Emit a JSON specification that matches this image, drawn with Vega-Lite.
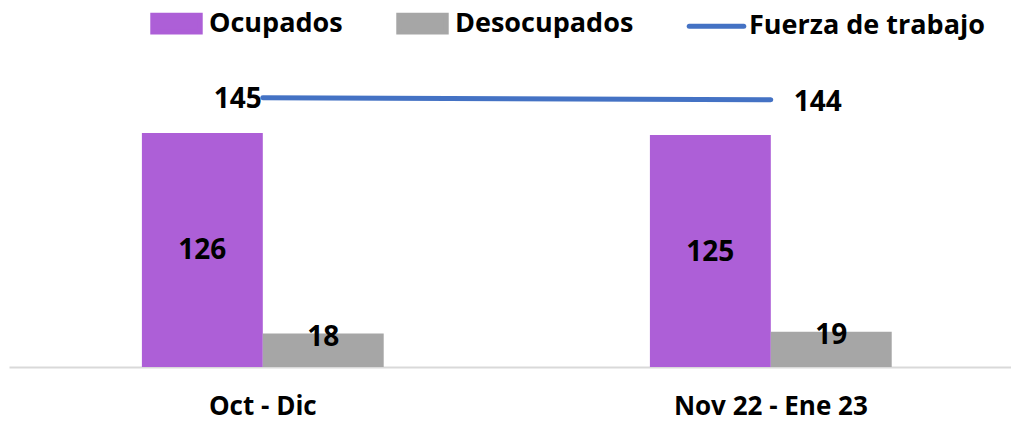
{
  "$schema": "https://vega.github.io/schema/vega-lite/v6.json",
  "autosize": {"type": "none"},
  "padding": {"left": 9, "top": 70, "right": 0, "bottom": 54},
  "width": 1002,
  "height": 297,
  "background": "white",
  "config": {"view": {"stroke": null}, "font": "Open Sans"},
  "datasets": {
    "bars": [
      {"periodo": "Oct - Dic", "serie": "Ocupados", "valor": 126},
      {"periodo": "Oct - Dic", "serie": "Desocupados", "valor": 18},
      {"periodo": "Nov 22 - Ene 23", "serie": "Ocupados", "valor": 125},
      {"periodo": "Nov 22 - Ene 23", "serie": "Desocupados", "valor": 19}
    ],
    "fuerza": [
      {"periodo": "Oct - Dic", "serie": "Fuerza de trabajo", "valor": 145},
      {"periodo": "Nov 22 - Ene 23", "serie": "Fuerza de trabajo", "valor": 144}
    ]
  },
  "encoding": {
    "x": {
      "field": "periodo", "type": "nominal", "sort": ["Oct - Dic", "Nov 22 - Ene 23"],
      "scale": {"paddingInner": 0.524, "paddingOuter": 0.2482, "align": 0.527},
      "axis": {
        "title": null, "labelAngle": 0, "ticks": false, "grid": false,
        "domainColor": "#d9d9d9", "domainWidth": 2,
        "labelFont": "Open Sans", "labelFontWeight": "bold", "labelFontSize": 26, "labelColor": "#000000",
        "labelPadding": 26, "labelLimit": 400
      }
    }
  },
  "layer": [
    {
      "data": {"name": "bars"},
      "mark": {"type": "bar"},
      "encoding": {
        "xOffset": {"field": "serie", "type": "nominal", "sort": ["Ocupados", "Desocupados"], "scale": {"domain": ["Ocupados", "Desocupados"], "paddingInner": 0, "paddingOuter": 0}},
        "y": {"field": "valor", "type": "quantitative", "scale": {"domain": [0, 160], "nice": false}, "axis": null},
        "color": {
          "field": "serie", "type": "nominal",
          "scale": {"domain": ["Ocupados", "Desocupados", "Fuerza de trabajo"], "range": ["#AD5FD7", "#A6A6A6", "#4472C4"]},
          "legend": {
            "orient": "none", "legendX": 141, "legendY": -73, "direction": "horizontal",
            "title": null,
            "labelFont": "Open Sans", "labelFontWeight": "bold", "labelFontSize": 27, "labelColor": "#000000", "labelLimit": 400,
            "symbolSize": 2250, "symbolType": "M-1,-0.35H1V0.35H-1Z", "labelOffset": 6, "columnPadding": 45,
            "symbolStrokeWidth": 5,
            "encode": {
              "symbols": {
                "update": {
                  "shape": {"signal": "datum.value === 'Fuerza de trabajo' ? 'M-1.15,0H1.15' : 'M-1,-0.35H1V0.35H-1Z'"},
                  "fill": {"signal": "datum.value === 'Ocupados' ? '#AD5FD7' : (datum.value === 'Desocupados' ? '#A6A6A6' : 'transparent')"},
                  "stroke": {"signal": "datum.value === 'Fuerza de trabajo' ? '#4472C4' : 'transparent'"},
                  "strokeWidth": {"value": 5},
                  "strokeCap": {"value": "round"},
                  "opacity": {"value": 1},
                  "fillOpacity": {"value": 1}
                }
              }
            }
          }
        }
      }
    },
    {
      "data": {"name": "bars"},
      "transform": [{"filter": "datum.serie === 'Ocupados'"}],
      "mark": {"type": "text", "font": "Open Sans", "fontWeight": "bold", "fontSize": 28, "color": "#000000", "baseline": "middle", "dy": 118},
      "encoding": {
        "xOffset": {"field": "serie", "type": "nominal", "scale": {"domain": ["Ocupados", "Desocupados"], "paddingInner": 0, "paddingOuter": 0}},
        "y": {"field": "valor", "type": "quantitative"},
        "text": {"field": "valor", "type": "quantitative"}
      }
    },
    {
      "data": {"name": "bars"},
      "transform": [{"filter": "datum.serie === 'Desocupados'"}],
      "mark": {"type": "text", "font": "Open Sans", "fontWeight": "bold", "fontSize": 28, "color": "#000000", "baseline": "middle", "dy": 4},
      "encoding": {
        "xOffset": {"field": "serie", "type": "nominal", "scale": {"domain": ["Ocupados", "Desocupados"], "paddingInner": 0, "paddingOuter": 0}},
        "y": {"field": "valor", "type": "quantitative"},
        "text": {"field": "valor", "type": "quantitative"}
      }
    },
    {
      "data": {"name": "fuerza"},
      "mark": {"type": "line", "strokeWidth": 5, "strokeCap": "round", "color": "#4472C4"},
      "encoding": {
        "y": {"field": "valor", "type": "quantitative"},
        "color": {"field": "serie", "type": "nominal"}
      }
    },
    {
      "data": {"name": "fuerza"},
      "transform": [{"filter": "datum.periodo === 'Oct - Dic'"}],
      "mark": {"type": "text", "font": "Open Sans", "fontWeight": "bold", "fontSize": 28, "color": "#000000", "baseline": "middle", "align": "right", "dx": -1, "dy": 2},
      "encoding": {
        "y": {"field": "valor", "type": "quantitative"},
        "text": {"field": "valor", "type": "quantitative"}
      }
    },
    {
      "data": {"name": "fuerza"},
      "transform": [{"filter": "datum.periodo === 'Nov 22 - Ene 23'"}],
      "mark": {"type": "text", "font": "Open Sans", "fontWeight": "bold", "fontSize": 28, "color": "#000000", "baseline": "middle", "align": "left", "dx": 23, "dy": 3},
      "encoding": {
        "y": {"field": "valor", "type": "quantitative"},
        "text": {"field": "valor", "type": "quantitative"}
      }
    }
  ]
}
